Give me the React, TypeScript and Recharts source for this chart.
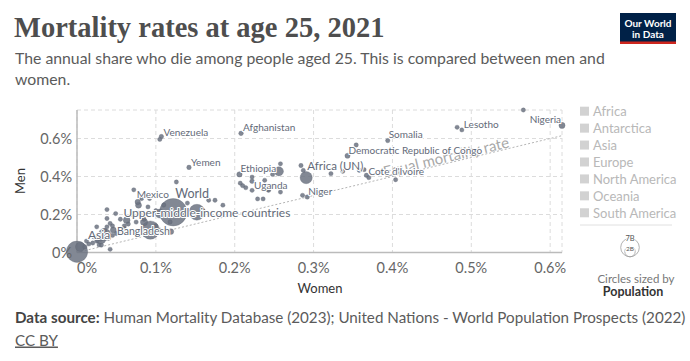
import React from 'react';
import {
  ScatterChart,
  Scatter,
  XAxis,
  YAxis,
  ZAxis,
  CartesianGrid,
  ReferenceLine,
  ReferenceDot,
} from 'recharts';

// [name, women %, men %, population (millions)]
const labelledEntities: [string, number, number, number][] = [
  ['Asia', 0, 0.004, 4700],
  ['World', 0.122, 0.212, 7900],
  ['Upper-middle-income countries', 0.152, 0.212, 2500],
  ['Bangladesh', 0.119, 0.11, 170],
  ['Mexico', 0.077, 0.266, 127],
  ['Venezuela', 0.107, 0.61, 28],
  ['Yemen', 0.142, 0.448, 33],
  ['Afghanistan', 0.208, 0.627, 40],
  ['Ethiopia', 0.206, 0.411, 120],
  ['Uganda', 0.222, 0.375, 47],
  ['Africa (UN)', 0.2906, 0.394, 1400],
  ['Niger', 0.292, 0.292, 25],
  ['Democratic Republic of Congo', 0.343, 0.509, 95],
  ["Cote d'Ivoire", 0.367, 0.406, 27],
  ['Somalia', 0.394, 0.589, 17],
  ['Lesotho', 0.488, 0.645, 2],
  ['Nigeria', 0.615, 0.669, 213],
];

// [women %, men %, population (millions)] for entities without a label
const otherEntities: [number, number, number][] = [
  [0.093, 0.118, 3400], [0.004, 0.03, 745], [0.03, 0.075, 1200], [0.035, 0.095, 1410],
  [0.256, 0.427, 700], [0.105, 0.205, 660], [0.085, 0.16, 375], [0.078, 0.249, 200],
  [0.063, 0.17, 300], [0.046, 0.118, 200],
  [0.105, 0.595, 5], [0.258, 0.467, 6], [0.207, 0.365, 6], [0.21, 0.352, 12],
  [0.214, 0.341, 6], [0.222, 0.327, 5], [0.222, 0.397, 8], [0.238, 0.38, 8],
  [0.243, 0.327, 5], [0.248, 0.411, 6], [0.26, 0.353, 10], [0.229, 0.282, 5],
  [0.236, 0.282, 5], [0.258, 0.318, 6], [0.242, 0.331, 5], [0.284, 0.458, 10],
  [0.287, 0.432, 10], [0.322, 0.415, 10], [0.337, 0.427, 8], [0.358, 0.432, 8],
  [0.364, 0.436, 8], [0.37, 0.394, 8], [0.404, 0.383, 8], [0.286, 0.301, 10],
  [0.354, 0.566, 15], [0.482, 0.659, 5], [0.566, 0.75, 5],
  [0.072, 0.33, 5], [0.126, 0.371, 6], [0.092, 0.284, 6], [0.09, 0.24, 8],
  [0.082, 0.284, 5], [0.167, 0.275, 6], [0.175, 0.275, 6], [0.185, 0.249, 6],
  [0.038, 0.226, 5], [0.038, 0.179, 5], [0.049, 0.205, 6], [0.042, 0.153, 6],
  [0.038, 0.135, 8], [0.025, 0.135, 5], [0.042, 0.017, 5], [0.031, 0.039, 5],
  [0.021, 0.083, 5], [0.118, 0.161, 10], [0.01, 0.03, 10], [0.015, 0.045, 10],
  [0.02, 0.05, 8], [0.025, 0.06, 10], [0.03, 0.07, 10], [0.04, 0.075, 10],
  [0.045, 0.09, 10], [0.05, 0.1, 12], [0.055, 0.12, 10], [0.028, 0.04, 8],
  [0.012, 0.06, 8], [0.06, 0.14, 10], [0.065, 0.15, 12], [0.07, 0.2, 10],
  [0.055, 0.175, 8], [0.08, 0.21, 10], [0.1, 0.22, 12], [0.11, 0.25, 10],
  [0.14, 0.26, 10], [0.16, 0.22, 10], [0.035, 0.115, 10], [0.045, 0.14, 8],
  [0.06, 0.125, 8], [0.075, 0.16, 10], [0.085, 0.175, 10], [0.1, 0.14, 8],
  [0.105, 0.118, 6],
];

const xTicks = [0, 0.1, 0.2, 0.3, 0.4, 0.5, 0.6];
const yTicks = [0, 0.2, 0.4, 0.6];
const regions = ['Africa', 'Antarctica', 'Asia', 'Europe', 'North America', 'Oceania', 'South America'];

// label offsets relative to the point
const labelPlacement: Record<string, { dx: number; dy: number; anchor?: string; size?: number }> = {
  Asia: { dx: 11, dy: -17, size: 12 },
  World: { dx: 2, dy: -19, size: 12.5 },
  'Upper-middle-income countries': { dx: 10, dy: 0, anchor: 'middle', size: 12 },
  Bangladesh: { dx: -1, dy: -1, anchor: 'end', size: 10.5 },
  Mexico: { dx: -1, dy: -8 },
  Venezuela: { dx: 2, dy: -5 },
  Yemen: { dx: 2, dy: -5.5 },
  Afghanistan: { dx: 2, dy: -6 },
  Ethiopia: { dx: 1, dy: -6 },
  Uganda: { dx: 2, dy: 4 },
  'Africa (UN)': { dx: 1, dy: -12, size: 11.5 },
  Niger: { dx: 1, dy: -6 },
  'Democratic Republic of Congo': { dx: 1, dy: -6 },
  "Cote d'Ivoire": { dx: 2, dy: -4.5 },
  Somalia: { dx: 1, dy: -6.5 },
  Lesotho: { dx: 2, dy: -6 },
  Nigeria: { dx: -1, dy: -6.5, anchor: 'end' },
};

const bubbles = [
  ...labelledEntities.map(([name, women, men, pop]) => ({ name, women, men, pop })),
  ...otherEntities.map(([women, men, pop]) => ({ name: '', women, men, pop })),
].sort((a, b) => b.pop - a.pop);

const labels = labelledEntities.map(([name, women, men, pop]) => ({ name, women, men, pop }));

const FONT = 'Lato, sans-serif';

const Bubble = (props: any) => {
  const { cx, cy, width, size } = props;
  const r = width ? width / 2 : Math.sqrt((size || 12) / Math.PI);
  return (
    <circle
      cx={cx}
      cy={cy}
      r={r}
      fill="#6a7180"
      fillOpacity={0.84}
      stroke="#5b616e"
      strokeOpacity={0.5}
      strokeWidth={0.6}
    />
  );
};

const PointLabel = (props: any) => {
  const { cx, cy, payload } = props;
  const p = labelPlacement[payload.name] || { dx: 2, dy: -6 };
  return (
    <text
      x={cx + p.dx}
      y={cy + p.dy}
      textAnchor={p.anchor || 'start'}
      dominantBaseline="central"
      fontSize={p.size || 10}
      fontFamily={FONT}
      fill="#636a78"
      stroke="#fff"
      strokeWidth={2}
      strokeLinejoin="round"
      paintOrder="stroke"
    >
      {payload.name}
    </text>
  );
};

const XTick = (props: any) => {
  const { x, y, payload } = props;
  const shift = payload.value === 0 ? 10 : 0;
  return (
    <text x={x + shift} y={y} dy="0.71em" textAnchor="middle" fontSize={14.5} fontFamily={FONT} fill="#666">
      {payload.value}%
    </text>
  );
};

const YTick = (props: any) => {
  const { x, y, payload } = props;
  return (
    <text x={x} y={y} dy="0.35em" textAnchor="end" fontSize={14.5} fontFamily={FONT} fill="#666">
      {payload.value}%
    </text>
  );
};

const EqualLabel = (props: any) => {
  const { cx, cy } = props;
  return (
    <text
      x={cx}
      y={cy - 1}
      transform={`rotate(-13.6 ${cx} ${cy})`}
      textAnchor="middle"
      fontSize={15}
      fontFamily={FONT}
      fill="#a8a8a8"
    >
      Equal mortality rate
    </text>
  );
};

export default function App() {
  return (
    <div style={{ position: 'absolute', left: 0, top: 0, width: 690, height: 361, background: '#fff', fontFamily: FONT }}>
      <div style={{ position: 'absolute', left: 0, top: 0 }}>
        <ScatterChart width={690} height={361} margin={{ top: 110, right: 128, bottom: 78.5, left: 17 }}>
          <CartesianGrid stroke="#dcdcdc" strokeDasharray="4 3" />
          <XAxis
            type="number"
            dataKey="women"
            domain={[0, 0.615]}
            ticks={xTicks}
            height={30}
            tickLine={false}
            tickSize={0}
            tickMargin={10}
            axisLine={{ stroke: '#bbb', strokeWidth: 1.5 }}
            tick={<XTick />}
          />
          <YAxis
            type="number"
            dataKey="men"
            domain={[0, 0.75]}
            ticks={yTicks}
            width={60}
            tickLine={false}
            tickSize={0}
            tickMargin={5}
            axisLine={{ stroke: '#bbb', strokeWidth: 1.5 }}
            tick={<YTick />}
          />
          <ZAxis type="number" dataKey="pop" domain={[0, 8000]} range={[14, 600]} />
          <ReferenceLine
            segment={[{ x: 0, y: 0 }, { x: 0.615, y: 0.615 }]}
            stroke="#b5b5b5"
            strokeDasharray="2 2"
          />
          <ReferenceDot x={0.47} y={0.47} r={0} shape={<EqualLabel />} />
          <Scatter data={bubbles} shape={<Bubble />} isAnimationActive={false} />
          <Scatter data={labels} shape={<PointLabel />} isAnimationActive={false} />
        </ScatterChart>
      </div>

      <svg width={690} height={361} style={{ position: 'absolute', left: 0, top: 0, pointerEvents: 'none' }}>
        <text x={14} y={37} fontFamily="'Liberation Serif', serif" fontWeight={700} fontSize={28.5} fill="#4e4e4e">
          Mortality rates at age 25, 2021
        </text>
        <text fontFamily={FONT} fontSize={15.8} fill="#5b5b5b">
          <tspan x={15} y={64}>The annual share who die among people aged 25. This is compared between men and</tspan>
          <tspan x={15} y={85}>women.</tspan>
        </text>

        <rect x={620} y={13} width={56} height={31} fill="#002147" />
        <rect x={620} y={41.5} width={56} height={2.5} fill="#ce261e" />
        <text x={648} y={26.5} textAnchor="middle" fontFamily={FONT} fontWeight={700} fontSize={10} fill="#fff">
          Our World
        </text>
        <text x={648} y={37.5} textAnchor="middle" fontFamily={FONT} fontWeight={700} fontSize={10} fill="#fff">
          in Data
        </text>

        <text x={20} y={181} transform="rotate(-90 20 181)" dy="0.35em" textAnchor="middle" fontFamily={FONT} fontSize={13} fill="#333">
          Men
        </text>
        <text x={320} y={292.5} textAnchor="middle" fontFamily={FONT} fontSize={13} fill="#333">
          Women
        </text>

        {regions.map((r, i) => (
          <g key={r}>
            <rect x={580} y={106.7 + i * 16.93} width={9} height={9} fill="#d2d2d2" />
            <text x={593} y={116 + i * 16.93} fontFamily={FONT} fontSize={13} fill="#b8b8b8">
              {r}
            </text>
          </g>
        ))}
        <line x1={580} x2={672} y1={225} y2={225} stroke="#e0e0e0" strokeWidth={1} />
        <circle cx={630} cy={247.5} r={9.3} fill="none" stroke="#a0a0a0" strokeWidth={0.8} />
        <circle cx={630} cy={251.6} r={5.2} fill="none" stroke="#a0a0a0" strokeWidth={0.8} />
        <text x={630} y={241} textAnchor="middle" fontFamily={FONT} fontSize={7.5} fill="#555" stroke="#fff" strokeWidth={2} paintOrder="stroke">
          7B
        </text>
        <text x={630} y={250.5} textAnchor="middle" fontFamily={FONT} fontSize={6.5} fill="#555" stroke="#fff" strokeWidth={2} paintOrder="stroke">
          2B
        </text>
        <text x={636} y={282.5} textAnchor="middle" fontFamily={FONT} fontSize={11.5} fill="#777">
          Circles sized by
        </text>
        <text x={633} y={296} textAnchor="middle" fontFamily={FONT} fontWeight={700} fontSize={12.5} fill="#333">
          Population
        </text>

        <text x={15} y={323} fontFamily={FONT} fontSize={15.2} fill="#5b5b5b">
          <tspan fontWeight={700} fill="#444">Data source:</tspan> Human Mortality Database (2023); United Nations - World Population Prospects (2022)
        </text>
        <text x={15} y={345.5} fontFamily={FONT} fontSize={15.2} fill="#5b5b5b" textDecoration="underline">
          CC BY
        </text>
      </svg>
    </div>
  );
}
